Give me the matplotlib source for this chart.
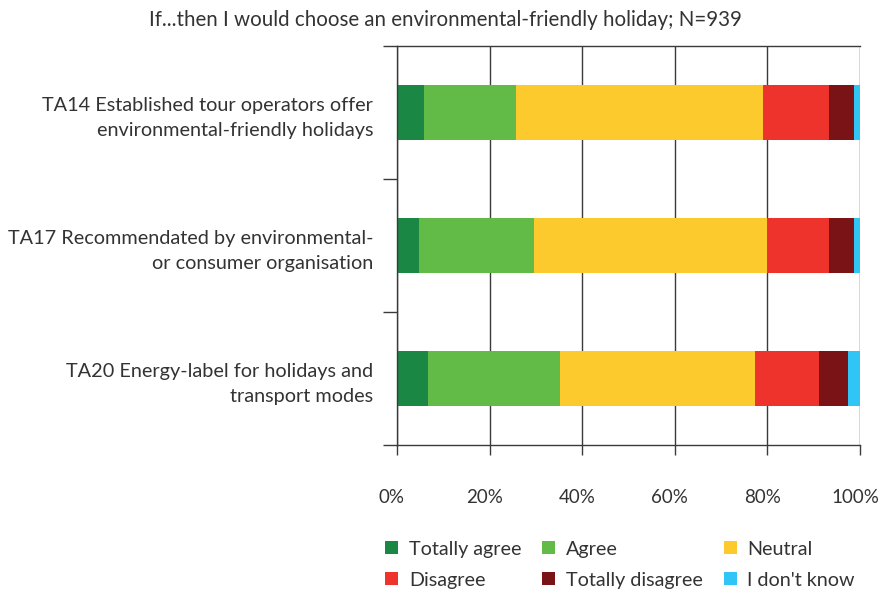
import matplotlib
matplotlib.use("Agg")
import matplotlib.pyplot as plt
from matplotlib.patches import Patch
from matplotlib.transforms import ScaledTranslation
import numpy as np

plt.rcParams['font.family'] = ['Lato', 'DejaVu Sans']

title = "If...then I would choose an environmental-friendly holiday; N=939"
categories = [
    "TA14 Established tour operators offer\nenvironmental-friendly holidays",
    "TA17 Recommendated by environmental-\nor consumer organisation",
    "TA20 Energy-label for holidays and\ntransport modes",
]
responses = ["Totally agree", "Agree", "Neutral", "Disagree", "Totally disagree", "I don't know"]
colors = ["#1b8744", "#62bb47", "#fdca2d", "#ee322c", "#7a1315", "#30c5f4"]

totally_agree    = [5.8, 4.7, 6.8]
agree            = [19.8, 24.8, 28.5]
neutral          = [53.4, 50.5, 42.0]
disagree         = [14.2, 13.2, 13.8]
totally_disagree = [5.6, 5.6, 6.4]
dont_know        = [1.2, 1.2, 2.5]
series = [totally_agree, agree, neutral, disagree, totally_disagree, dont_know]

xticks = [0, 20, 40, 60, 80, 100]
xtick_labels = ["0%", "20%", "40%", "60%", "80%", "100%"]

text_color = "#333333"
grid_color = "#3a3a3a"

fig = plt.figure(figsize=(8.8, 5.91), dpi=100)
ax = fig.add_axes([0.4511, 0.247, 0.5262, 0.6752])

y = np.arange(len(categories))
left = np.zeros(len(categories))
handles = []
for name, vals, col in zip(responses, series, colors):
    vals = np.array(vals, dtype=float)
    ax.barh(y, vals, left=left, height=0.42, color=col, edgecolor='none', zorder=3)
    left += vals
    handles.append(Patch(facecolor=col, edgecolor='none', label=name))

ax.set_xlim(0, 100)
ax.set_ylim(len(categories) - 0.5, -0.5)

# vertical gridlines
for xv in xticks:
    ax.axvline(xv, color=grid_color, lw=1.0, zorder=1)

ax.set_xticks(xticks)
ax.set_xticklabels(xtick_labels, fontsize=13.5, color=text_color)
ax.tick_params(axis='x', length=7, width=1.0, color=grid_color, pad=25)
shift = ScaledTranslation(-5 / 100, 0, fig.dpi_scale_trans)
for lab in ax.get_xticklabels():
    lab.set_transform(lab.get_transform() + shift)

ax.set_yticks(y)
ax.set_yticklabels(categories, fontsize=14.3, color=text_color, linespacing=1.55)
ax.tick_params(axis='y', which='major', length=0, pad=17)
ax.set_yticks(np.arange(len(categories) + 1) - 0.5, minor=True)
ax.tick_params(axis='y', which='minor', length=10, width=1.0, color=grid_color)

ax.spines['right'].set_visible(False)
for s in ['left', 'bottom', 'top']:
    ax.spines[s].set_color(grid_color)
    ax.spines[s].set_linewidth(1.0)
ax.spines['left'].set_zorder(4)

fig.text(0.506, 0.967, title, ha='center', va='center', fontsize=14.8, color=text_color)

# legend filled row by row
order = [0, 3, 1, 4, 2, 5]
leg = fig.legend([handles[i] for i in order], [responses[i] for i in order],
                 ncol=3, loc='upper left', bbox_to_anchor=(0.4375, 0.085),
                 frameon=False, fontsize=14.2, handlelength=0.66, handleheight=0.66,
                 handletextpad=0.55, columnspacing=1.05, labelspacing=0.7,
                 borderaxespad=0, borderpad=0)
for t in leg.get_texts():
    t.set_color(text_color)

fig.savefig("out.png", dpi=100)
